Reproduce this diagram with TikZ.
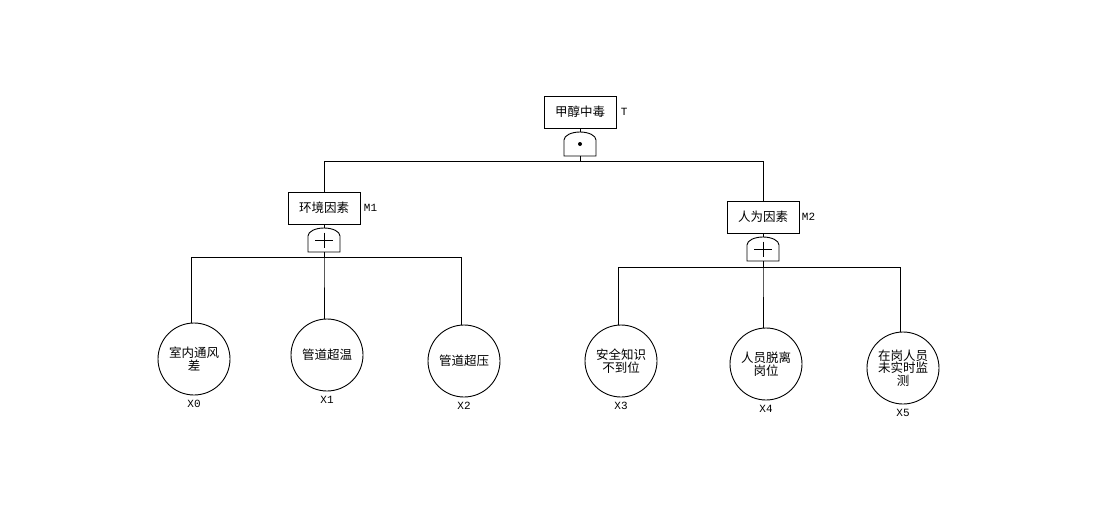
\documentclass[tikz,border=0pt]{standalone}
\usepackage{fontspec}
\newfontfamily\cjk{Noto Sans CJK SC}
\newfontfamily\lblfont{Liberation Mono}
\begin{document}
\begin{tikzpicture}[x=1pt,y=-1pt,line width=0.9pt,
  box/.style={draw,minimum width=72pt,minimum height=32pt,inner sep=0pt,font=\cjk\fontsize{12.5}{13}\selectfont},
  evt/.style={draw,circle,minimum size=72pt,inner sep=0pt,align=center,font=\cjk\fontsize{12.5}{12.5}\selectfont},
  tag/.style={font=\lblfont\fontsize{11}{11}\selectfont,inner sep=1pt},
  gateshape/.pic={\draw (-16,12) -- (-16,-4) .. controls (-16,-8.4) and (-8.8,-12) .. (0,-12) .. controls (8.8,-12) and (16,-8.4) .. (16,-4) -- (16,12) -- cycle;
     \coordinate (-top) at (0,-12); \coordinate (-bot) at (0,12);},
  andgate/.pic={\pic (-g) {gateshape}; \fill (0,0) circle[radius=2];
     \coordinate (-top) at (0,-12); \coordinate (-bot) at (0,12);},
  orgate/.pic={\pic (-g) {gateshape}; \draw (-9,0) -- (9,0) (0,-7.5) -- (0,7.5);
     \coordinate (-top) at (0,-12); \coordinate (-bot) at (0,12);}
]
\useasboundingbox (0,0) rectangle (1104,515);

% top event
\node[box] (t) at (580,112) {甲醇中毒};
\node[tag,anchor=west] (tl) at ([xshift=3pt]t.east) {T};
\pic (g0) at (580,144) {andgate};
\draw (t.south) -- (g0-top);

% intermediate events
\node[box] (m1) at (324,208) {环境因素};
\node[tag,anchor=west] (m1l) at ([xshift=2pt]m1.east) {M1};
\pic (g1) at (324,240) {orgate};
\draw (m1.south) -- (g1-top);

\node[box] (m2) at (763,217) {人为因素};
\node[tag,anchor=west] (m2l) at ([xshift=1pt]m2.east) {M2};
\pic (g2) at (763,249) {orgate};
\draw (m2.south) -- (g2-top);

\draw (g0-bot) -- ++(0,5) -| (m1.north);
\draw (g0-bot) -- ++(0,5) -| (m2.north);

% basic events
\node[evt] (x0) at (194,359) {室内通风\\差};
\node[evt] (x1) at (327,355) {管道超温};
\node[evt] (x2) at (464,361) {管道超压};
\node[evt] (x3) at (621,361) {安全知识\\不到位};
\node[evt] (x4) at (766,364) {人员脱离\\岗位};
\node[evt] (x5) at (903,368) {在岗人员\\未实时监\\测};

\foreach \n/\l in {x0/X0,x1/X1,x2/X2,x3/X3,x4/X4,x5/X5}{
  \node[tag,anchor=north] (\n l) at ([yshift=-3pt]\n.south) {\l};
}

\foreach \n in {x0,x1,x2}{
  \draw (g1-bot) -- ++(0,5) -| ([xshift=-3pt]\n.north);
}
\foreach \n in {x3,x4,x5}{
  \draw (g2-bot) -- ++(0,6) -| ([xshift=-3pt]\n.north);
}
\end{tikzpicture}
\end{document}
